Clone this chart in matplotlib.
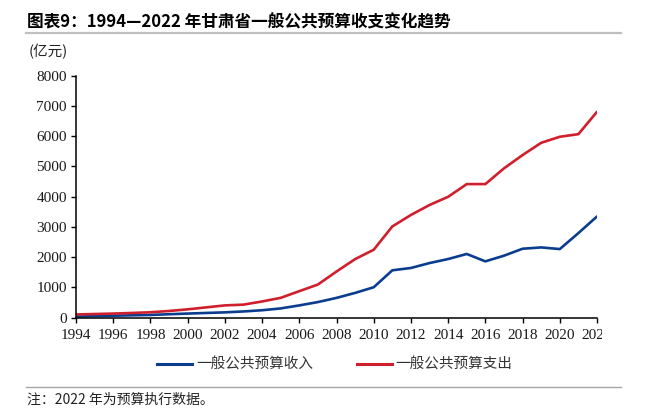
import matplotlib
matplotlib.use("Agg")
import matplotlib.pyplot as plt
from matplotlib.lines import Line2D
from matplotlib.transforms import Bbox, TransformedBbox
from matplotlib import font_manager

years = list(range(1994, 2023))
# 一般公共预算收入 (亿元)
revenue = [30, 45, 60, 72, 85, 108, 130, 150, 170, 200, 240, 300, 400,
           510, 648, 813, 1000, 1560, 1637, 1800, 1933, 2100, 1856, 2043,
           2273, 2317, 2262, 2790, 3340]
# 一般公共预算支出 (亿元)
expenditure = [100, 115, 130, 150, 173, 215, 270, 335, 400, 425, 530, 650, 870,
               1090, 1520, 1930, 2240, 3010, 3390, 3720, 3990, 4410, 4410, 4930,
               5370, 5775, 5975, 6060, 6800]

x_ticks = list(range(1994, 2023, 2))
y_ticks = list(range(0, 8001, 1000))

title = "图表9：1994—2022 年甘肃省一般公共预算收支变化趋势"
unit = "(亿元)"
labels = ["一般公共预算收入", "一般公共预算支出"]
note = "注：2022 年为预算执行数据。"
colors = ["#0b3d8f", "#d01f2c"]

# Times-like font for the numbers
serif_path = None
for f in font_manager.findSystemFonts():
    if 'liberationserif-regular' in f.lower().replace(' ', ''):
        serif_path = f
        break
if serif_path:
    serif = font_manager.FontProperties(fname=serif_path, size=11)
else:
    serif = font_manager.FontProperties(family='DejaVu Serif', size=10)

W, H = 649, 411
fig = plt.figure(figsize=(W / 100, H / 100), dpi=100)
ax = fig.add_axes([76 / W, 1 - 317.5 / H, (597 - 76) / W, (317.5 - 75.5) / H])

ax.plot(years, revenue, color=colors[0], lw=1.9, solid_joinstyle='round', solid_capstyle='round')
ax.plot(years, expenditure, color=colors[1], lw=1.9, solid_joinstyle='round', solid_capstyle='round')

ax.set_xlim(1994, 2022)
ax.set_ylim(0, 8000)
ax.set_xticks(x_ticks)
ax.set_xticklabels([str(y) for y in x_ticks], fontproperties=serif, color='#1a1a1a')
ax.set_yticks(y_ticks)
ax.set_yticklabels([str(v) for v in y_ticks], fontproperties=serif, color='#1a1a1a')
ax.tick_params(direction='out', length=3.5, width=1, colors='black', labelcolor='#1a1a1a', pad=5)
ax.tick_params(axis='y', pad=3)
for s in ['top', 'right']:
    ax.spines[s].set_visible(False)
for s in ['left', 'bottom']:
    ax.spines[s].set_linewidth(1.1)
    ax.spines[s].set_color('black')

# last year label is cut off in the original
clip = TransformedBbox(Bbox([[0, 0], [602 / W, 1]]), fig.transFigure)
last = ax.get_xticklabels()[-1]
last.set_clip_box(clip)
last.set_clip_on(True)

cjk = ['Noto Sans CJK SC', 'DejaVu Sans']

# title and rules
fig.text(27 / W, 1 - 22.5 / H, title, fontsize=12, fontweight='bold',
         family=cjk, va='center', ha='left')
fig.add_artist(Line2D([26 / W, 621 / W], [1 - 33.5 / H] * 2, color='#bfbfbf', lw=1.6))
fig.text(29 / W, 1 - 52 / H, unit, fontsize=10.5, va='center', ha='left',
         family=cjk, color='#222222')

# legend
handles = [Line2D([], [], color=c, lw=2.2) for c in colors]
fig.legend(handles, labels, loc='center', bbox_to_anchor=(335 / W, 1 - 365 / H),
           ncol=2, frameon=False, handlelength=2.4, handletextpad=0.25, columnspacing=3.0,
           prop={'family': cjk, 'size': 10.5})
for t in fig.legends[0].get_texts():
    t.set_color('#333333')

fig.add_artist(Line2D([26 / W, 621 / W], [1 - 386.5 / H] * 2, color='#a6a6a6', lw=1.0))
fig.text(27 / W, 1 - 400 / H, note, fontsize=10, va='center', ha='left',
         family=cjk, color='#222222')

fig.savefig("out.png", dpi=100)
